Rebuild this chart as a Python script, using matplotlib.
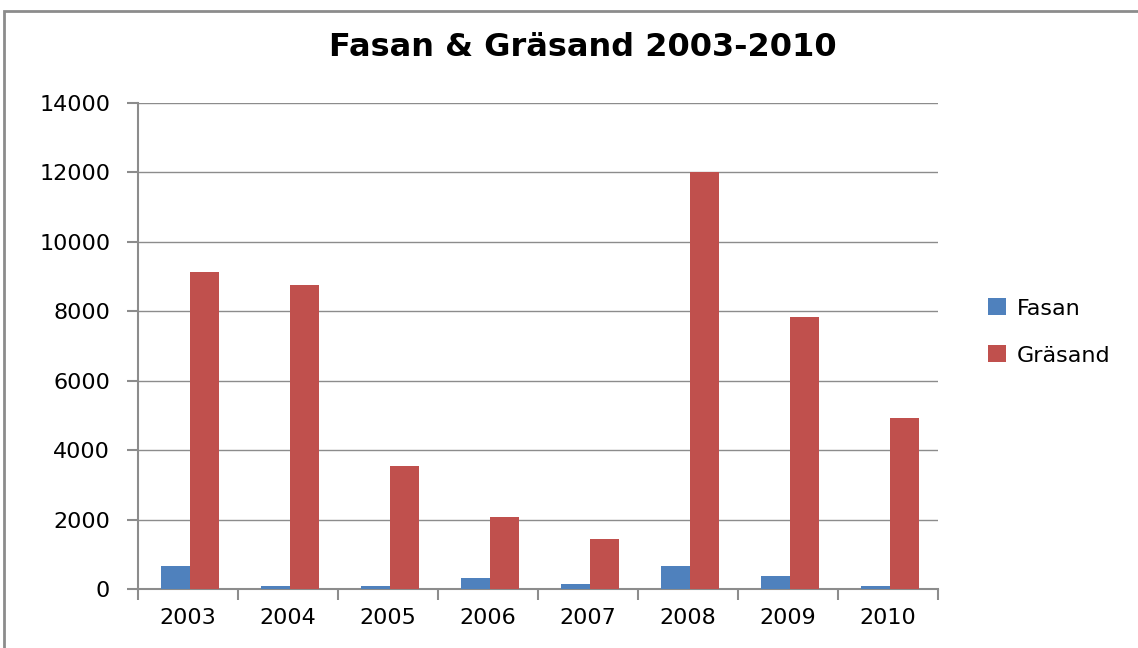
import matplotlib.pyplot as plt
import numpy as np
from matplotlib.patches import Rectangle

years = ['2003', '2004', '2005', '2006', '2007', '2008', '2009', '2010']
fasan = [670, 95, 95, 320, 155, 670, 385, 95]
grasand = [9120, 8750, 3550, 2080, 1440, 12000, 7830, 4930]

fig = plt.figure(figsize=(11.38, 6.48), dpi=100)
fig.patches.append(Rectangle((4 / 1138, -0.1), 1.2, (648 - 11) / 648 + 0.1,
                             transform=fig.transFigure, fill=False,
                             edgecolor='#8c8c8c', linewidth=2))
ax = fig.add_axes([138 / 1138, 1 - 589 / 648, 800 / 1138, 486 / 648])

x = np.arange(len(years))
w = 1 / 3.5
ax.bar(x - w / 2 + 0.02, fasan, w, color='#4f81bd', label='Fasan', zorder=3)
ax.bar(x + w / 2 + 0.02, grasand, w, color='#c0504d', label='Gräsand', zorder=3)

ax.set_xlim(-0.5, len(years) - 0.5)
ax.set_ylim(0, 14000)
ax.set_yticks(range(0, 14001, 2000))
ax.grid(axis='y', color='#8c8c8c', linewidth=1, zorder=0)
ax.set_xticks(x)
ax.set_xticklabels(years)
ax.set_xticks(np.arange(-0.5, len(years)), minor=True)
ax.tick_params(axis='x', which='major', length=0, pad=14, labelsize=16)
ax.tick_params(axis='x', which='minor', length=8, color='#8c8c8c', width=1.5)
ax.tick_params(axis='y', length=8, color='#8c8c8c', width=1.5, labelsize=16, pad=12)
for s in ['top', 'right']:
    ax.spines[s].set_visible(False)
for s in ['left', 'bottom']:
    ax.spines[s].set_color('#8c8c8c')
    ax.spines[s].set_linewidth(1.5)

fig.text(0.512, 1 - 48 / 648, 'Fasan & Gräsand 2003-2010', ha='center', va='center',
         fontsize=23, fontweight='bold')
fig.legend(loc='center left', bbox_to_anchor=(968 / 1138, 1 - 332 / 648), frameon=False,
           fontsize=16, handlelength=0.8, handleheight=0.8, labelspacing=1.2,
           handletextpad=0.5)

fig.savefig('out.png', dpi=100)
